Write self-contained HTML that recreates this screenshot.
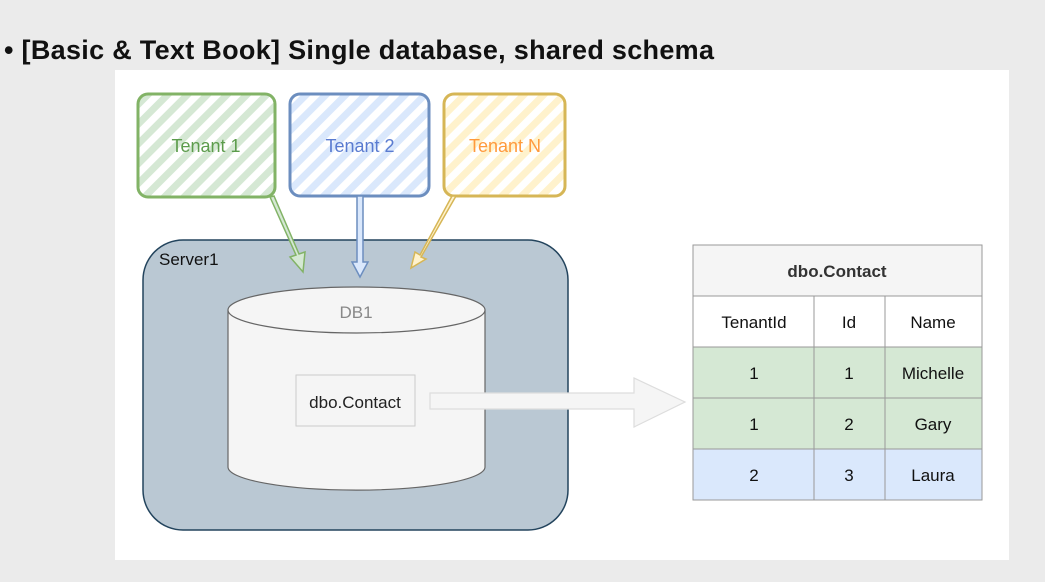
<!DOCTYPE html>
<html><head><style>
body{margin:0;width:1045px;height:582px;background:#ebebeb;overflow:hidden;font-family:"Liberation Sans",sans-serif;position:relative}
.title{position:absolute;left:4px;top:35px;font:bold 27px "Liberation Sans",sans-serif;letter-spacing:0.3px;color:#111}
.panel{position:absolute;left:115px;top:70px;width:894px;height:490px;background:#fff}
svg{position:absolute;left:0;top:0}
</style></head><body>
<div class="title">• [Basic &amp; Text Book] Single database, shared schema</div>
<div class="panel"></div>
<svg width="1045" height="582" font-family="Liberation Sans, sans-serif">
<defs>
<pattern id="hg" width="14" height="14" patternUnits="userSpaceOnUse" patternTransform="rotate(45)"><rect width="7" height="14" fill="#d5e8d4"/></pattern>
<pattern id="hb" width="14" height="14" patternUnits="userSpaceOnUse" patternTransform="rotate(45)"><rect width="7" height="14" fill="#dae8fc"/></pattern>
<pattern id="hy" width="14" height="14" patternUnits="userSpaceOnUse" patternTransform="rotate(45)"><rect width="7" height="14" fill="#fff2cc"/></pattern>
</defs>
<rect x="138" y="94" width="137" height="103" rx="10" fill="url(#hg)" stroke="#82b366" stroke-width="3"/>
<rect x="290" y="94" width="139" height="102" rx="10" fill="url(#hb)" stroke="#6c8ebf" stroke-width="3"/>
<rect x="444" y="94" width="121" height="102" rx="10" fill="url(#hy)" stroke="#d6b656" stroke-width="3"/>
<text x="206" y="152" font-size="18" fill="#5c9c4c" text-anchor="middle">Tenant 1</text>
<text x="360" y="152" font-size="18" fill="#5a7bd0" text-anchor="middle">Tenant 2</text>
<text x="505" y="152" font-size="18" fill="#ff9a3c" text-anchor="middle">Tenant N</text>
<rect x="143" y="240" width="425" height="290" rx="40" fill="#bac8d3" stroke="#23445d" stroke-width="1.5"/>
<text x="159" y="265" font-size="17" fill="#111">Server1</text>
<g stroke-width="1.5">
<path d="M270 197 L296 255 L290 257 L303 272 L305 252 L299 254 L274 196 Z" fill="#d5e8d4" stroke="#82b366"/>
<path d="M357 196 L357 262 L352 262 L360 277 L368 262 L363 262 L363 196 Z" fill="#dae8fc" stroke="#6c8ebf"/>
<path d="M452 196 L420 255 L415 252 L411 268 L426 259 L421 257 L456 196 Z" fill="#fff2cc" stroke="#d6b656"/>
</g>
<path d="M228 310 L228 467 A128 23 0 0 0 485 467 L485 310" fill="#f5f5f5" stroke="#666" stroke-width="1.2"/>
<ellipse cx="356.5" cy="310" rx="128.5" ry="23" fill="#f5f5f5" stroke="#666" stroke-width="1.2"/>
<text x="356" y="318" font-size="17" fill="#888" text-anchor="middle">DB1</text>
<rect x="296" y="375" width="119" height="51" fill="#f5f5f5" stroke="#ccc"/>
<text x="355" y="408" font-size="17" fill="#222" text-anchor="middle">dbo.Contact</text>
<path d="M430 393 L634 393 L634 378 L685 402 L634 427 L634 409 L430 409 Z" fill="#f5f5f5" stroke="#ddd" stroke-width="1.2"/>
<g stroke="#999" stroke-width="1">
<rect x="693" y="245" width="289" height="51" fill="#f5f5f5"/>
<rect x="693" y="296" width="289" height="51" fill="#fff"/>
<rect x="693" y="347" width="289" height="102" fill="#d5e8d4"/>
<rect x="693" y="449" width="289" height="51" fill="#dae8fc"/>
<line x1="693" y1="398" x2="982" y2="398"/>
<line x1="814" y1="296" x2="814" y2="500"/>
<line x1="885" y1="296" x2="885" y2="500"/>
</g>
<g font-size="17" fill="#111" text-anchor="middle">
<text x="837" y="277" font-weight="bold" fill="#333">dbo.Contact</text>
<text x="754" y="328">TenantId</text><text x="849" y="328">Id</text><text x="933" y="328">Name</text>
<text x="754" y="379">1</text><text x="849" y="379">1</text><text x="933" y="379">Michelle</text>
<text x="754" y="430">1</text><text x="849" y="430">2</text><text x="933" y="430">Gary</text>
<text x="754" y="481">2</text><text x="849" y="481">3</text><text x="933" y="481">Laura</text>
</g>
</svg>
</body></html>
